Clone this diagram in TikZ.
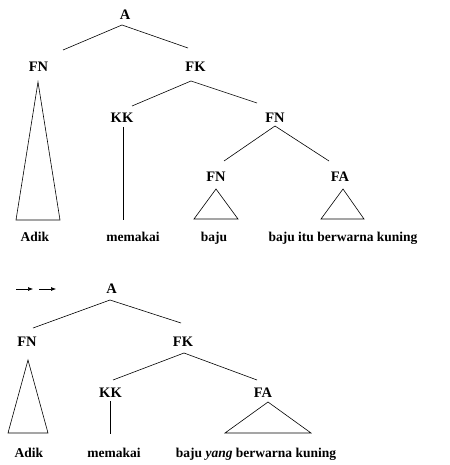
\documentclass[tikz,border=0pt]{standalone}
\usepackage{fontspec}
\setmainfont{Liberation Serif}
\usepackage{tikz}
\usetikzlibrary{positioning, arrows.meta, calc}

\begin{document}
\begin{tikzpicture}[x=1pt, y=1pt, line width=0.6pt,
    cat/.style={font=\fontsize{14.5}{16}\selectfont\bfseries, inner sep=1pt},
    word/.style={font=\fontsize{13.5}{16}\selectfont\bfseries, inner sep=1pt, anchor=base}]
    \useasboundingbox (0,0) rectangle (449,-465);

    % first tree
    \node (a) [cat] at (125,-14.5) {A};
    \node (fn) [cat] at (38.5,-67) {FN};
    \node (fk) [cat] at (195.5,-67) {FK};
    \node (kk) [cat] at (122,-118) {KK};
    \node (fnb) [cat] at (275,-118) {FN};
    \node (fnc) [cat] at (216,-177) {FN};
    \node (fa) [cat] at (340,-177) {FA};
    \node (adik) [word] at (35,-241) {Adik};
    \node (memakai) [word] at (133,-241) {memakai};
    \node (baju) [word] at (214,-241) {baju};
    \node (bajuitu) [word] at (343,-241) {baju itu berwarna kuning};

    \draw ($(a)+(-3,-10.5)$) -- ($(fn)+(24.5,17)$);
    \draw ($(a)+(-3,-10.5)$) -- ($(fk)+(-7.5,19)$);
    \draw ($(fn)+(-0.5,-15)$) -- ($(fn)+(-22.5,-153)$) -- ($(fn)+(21.5,-153)$) -- cycle;
    \draw ($(fk)+(-4.5,-14)$) -- ($(kk)+(10,12)$);
    \draw ($(fk)+(-4.5,-14)$) -- ($(fnb)+(-18,15)$);
    \draw ($(kk)+(1,-9)$) -- ($(kk)+(1,-102)$);
    \draw ($(fnb)+(0,-8)$) -- ($(fnc)+(8,16)$);
    \draw ($(fnb)+(0,-8)$) -- ($(fa)+(-11,16)$);
    \draw ($(fnc)+(0,-12)$) -- ($(fnc)+(-22,-42)$) -- ($(fnc)+(22,-42)$) -- cycle;
    \draw ($(fa)+(3,-12)$) -- ($(fa)+(-19,-42)$) -- ($(fa)+(24,-42)$) -- cycle;

    % second tree
    \coordinate (p1) at (16,-289);
    \coordinate (p2) at (33,-289);
    \coordinate (p3) at (39,-289);
    \coordinate (p4) at (56,-289);
    \draw[-{Latex[length=5pt,width=4pt]}] (p1) -- (p2);
    \draw[-{Latex[length=5pt,width=4pt]}] (p3) -- (p4);

    \node (a2) [cat] at (111.5,-289) {A};
    \node (fn2) [cat] at (27,-341.5) {FN};
    \node (fk2) [cat] at (183,-341.5) {FK};
    \node (kk2) [cat] at (110.5,-393) {KK};
    \node (fa2) [cat] at (263,-393) {FA};
    \node (adik2) [word] at (29,-457) {Adik};
    \node (memakai2) [word] at (114,-457) {memakai};
    \node (bajuyang) [word] at (256,-457) {baju \textit{yang} berwarna kuning};

    \draw ($(a2)+(-1.5,-11)$) -- ($(fn2)+(6,13.5)$);
    \draw ($(a2)+(-1.5,-11)$) -- ($(fk2)+(-2,18.5)$);
    \draw ($(fn2)+(1,-18.5)$) -- ($(fn2)+(-19,-91.5)$) -- ($(fn2)+(21,-91.5)$) -- cycle;
    \draw ($(fk2)+(1,-11.5)$) -- ($(kk2)+(2.5,13)$);
    \draw ($(fk2)+(1,-11.5)$) -- ($(fa2)+(-6,13)$);
    \draw ($(kk2)+(-0.5,-8)$) -- ($(kk2)+(-0.5,-41)$);
    \draw ($(fa2)+(5,-9)$) -- ($(fa2)+(-38,-40)$) -- ($(fa2)+(48,-40)$) -- cycle;
\end{tikzpicture}
\end{document}
